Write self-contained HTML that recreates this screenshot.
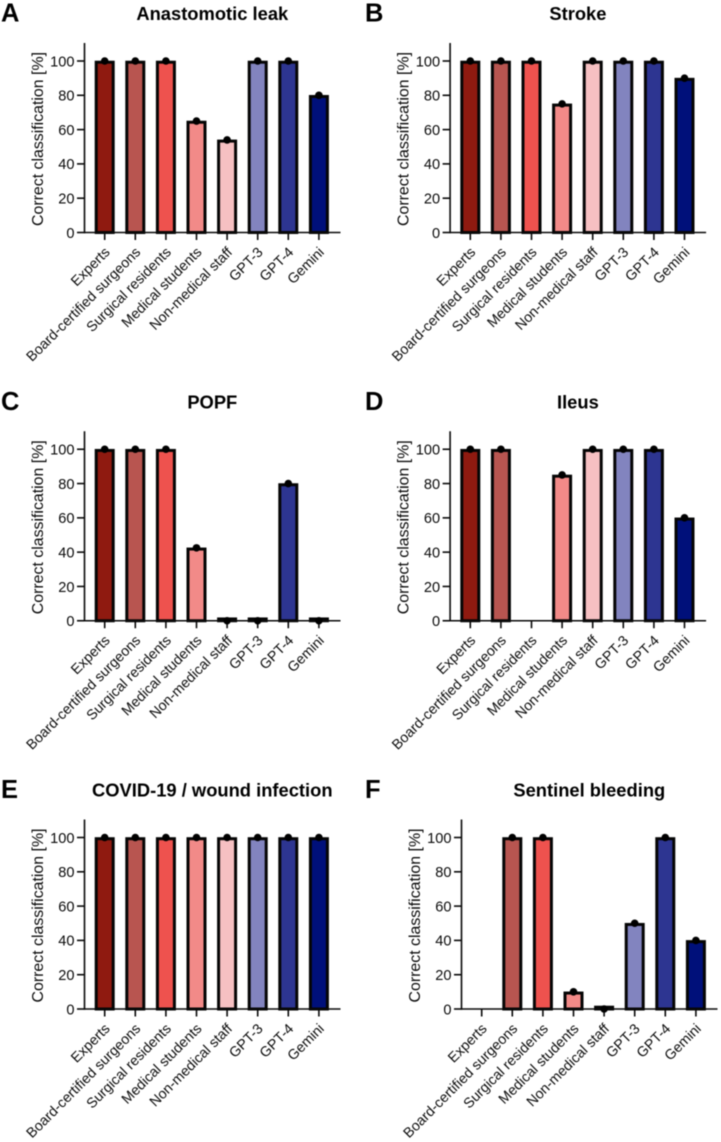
<!DOCTYPE html>
<html lang="en">
<head>
<meta charset="utf-8">
<title>Correct classification by group</title>
<style>
html,body{margin:0;padding:0;background:#fff;}
#figure{display:block;width:721px;height:1142px;filter:blur(0.45px);}
text{font-family:"Liberation Sans",Arial,sans-serif;fill:#0c0c0c;}
</style>
</head>
<body>
<svg id="figure" xmlns="http://www.w3.org/2000/svg" width="721" height="1142" viewBox="0 0 721 1142"></svg>
<script>
const categories = ["Experts","Board-certified surgeons","Surgical residents","Medical students","Non-medical staff","GPT-3","GPT-4","Gemini"];
const barColors = ["#8f1a10","#b85550","#ee524e","#f28a88","#f6c0c2","#8284bf","#2d3591","#00107a"];
const yTicks = [0,20,40,60,80,100];
const panelLetters = ["A","B","C","D","E","F"];
const panelTitles = ["Anastomotic leak","Stroke","POPF","Ileus","COVID-19 / wound infection","Sentinel bleeding"];
const valuesA = [100,100,100,65,54,100,100,80];
const valuesB = [100,100,100,75,100,100,100,90];
const valuesC = [100,100,100,42.5,0,0,80,0];
const valuesD = [100,100,null,85,100,100,100,60];
const valuesE = [100,100,100,100,100,100,100,100];
const valuesF = [null,100,100,10,0,50,100,40];
const panelValues = [valuesA,valuesB,valuesC,valuesD,valuesE,valuesF];

const svg = document.getElementById('figure');
const NS = 'http://www.w3.org/2000/svg';
function mk(parent, tag, attrs, txt){
  const e = document.createElementNS(NS, tag);
  for (const k in attrs) e.setAttribute(k, attrs[k]);
  if (txt !== undefined) e.textContent = txt;
  parent.appendChild(e);
  return e;
}
const INK = '#0a0a0a';
const Y0 = 232.5, PX_PER_UNIT = 1.715, X_FIRST = 104.7, X_STEP = 30.6;
const PANEL_SHIFT = [0, 365.6, 0, 365.6, 0, 377];
const yScale = v => Y0 - v * PX_PER_UNIT;
const xScale = i => X_FIRST + i * X_STEP;

panelValues.forEach((values, p) => {
  const dx = PANEL_SHIFT[p];
  const dy = Math.floor(p / 2) * 388.25;
  const g = mk(svg, 'g', {transform:`translate(${dx} ${dy})`});
  
  

  const letterX = (p % 2 ? 365 : 1) - dx;
  const letter = mk(g, 'text', {x:letterX, y:21.5, 'font-size':25.5, 'font-weight':'bold', style:'fill:#000'}, panelLetters[p]);
  
  

  const title = mk(g, 'text', {x:212.3, y:20, 'font-size':18.35, 'font-weight':'bold', 'text-anchor':'middle', style:'fill:#000'}, panelTitles[p]);
  
  

  const yTitle = mk(g, 'text', {transform:`translate(43 139) rotate(-90)`, 'font-size':15.9, 'text-anchor':'middle'}, 'Correct classification [%]');
  
  

  yTicks.forEach(t => {
    const y = yScale(t);
    const tick = mk(g, 'line', {x1:77, x2:84.5, y1:y, y2:y, stroke:INK, 'stroke-width':1.6});
    
    
    const lab = mk(g, 'text', {x:74.5, y:y+5.3, 'font-size':14.6, 'text-anchor':'end'}, String(t));
    
    
  });

  categories.forEach((c, i) => {
    const x = xScale(i);
    const tick = mk(g, 'line', {x1:x, x2:x, y1:Y0, y2:240, stroke:INK, 'stroke-width':1.6});
    
    
    const lab = mk(g, 'text', {transform:`translate(${x+6} 253) rotate(-45)`, 'font-size':14.2, 'text-anchor':'end'}, c);
    
    
  });

  values.forEach((v, i) => {
    if (v === null) return;
    const x = xScale(i);
    const top = Math.min(yScale(v) + 1.2, Y0 - 1.8);
    const bar = mk(g, 'rect', {x:x-8.5, y:top, width:17, height:Y0-top, fill:barColors[i], stroke:'#050505', 'stroke-width':3});
    
    
  });

  const yAxis = mk(g, 'line', {x1:84.5, x2:84.5, y1:43, y2:Y0+0.8, stroke:INK, 'stroke-width':1.6});
  
  
  const xAxis = mk(g, 'line', {x1:84.5, x2:340.5, y1:Y0, y2:Y0, stroke:INK, 'stroke-width':1.6});
  
  

  values.forEach((v, i) => {
    if (v === null) return;
    const dot = mk(g, 'circle', {cx:xScale(i), cy:yScale(v), r:3.8, fill:'#000'});
    
    
  });
});
</script>
</body>
</html>
